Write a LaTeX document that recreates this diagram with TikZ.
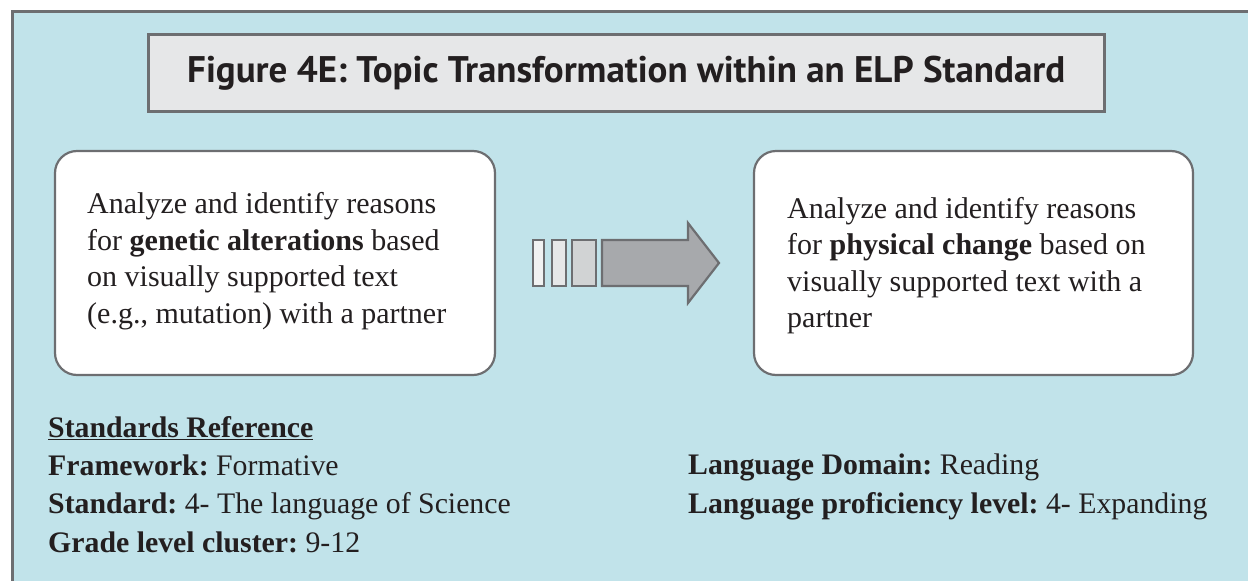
\documentclass[tikz,border=0pt]{standalone}
\usepackage{fontspec}
\setmainfont{Liberation Serif}
\newfontfamily\titlefont{PT Sans}
\usetikzlibrary{calc}
\frenchspacing
\definecolor{bgblue}{HTML}{C1E3EA}
\definecolor{framegray}{HTML}{6D6E71}
\definecolor{titlefill}{HTML}{E6E7E8}
\definecolor{r1}{HTML}{F1F2F2}
\definecolor{r2}{HTML}{E6E7E8}
\definecolor{r3}{HTML}{D1D3D4}
\definecolor{arrowfill}{HTML}{A7A9AC}
\definecolor{txt}{HTML}{231F20}
\tikzset{
  panel/.style={draw=framegray, line width=2.2pt, fill=white, rounded corners=22pt},
  bodytext/.style={anchor=north west, align=left, inner sep=0pt, text=txt,
    font=\frenchspacing\fontsize{30}{36.5}\selectfont},
  reftext/.style={anchor=north west, align=left, inner sep=0pt, text=txt,
    font=\frenchspacing\fontsize{29.8}{38.3}\selectfont},
  stripe/.style={draw=framegray, line width=2.2pt},
}
\begin{document}
\begin{tikzpicture}[x=1pt,y=-1pt]
\useasboundingbox (0,0) rectangle (1248,581);
% outer frame
\draw[draw=framegray, fill=bgblue, line width=3pt] (12,11) rectangle (1260,600);
% title
\node[draw=framegray, fill=titlefill, line width=2.5pt, minimum width=956pt, minimum height=77pt,
  inner sep=0pt, anchor=north west, text=txt] (title) at (147,33)
  {\titlefont\bfseries\fontsize{37}{44}\selectfont Figure 4E: Topic Transformation within an ELP Standard};
% panels
\draw[panel] (55,151) rectangle (495,375);
\draw[panel] (754,151) rectangle (1193,375);
\node[bodytext] (ltext) at (87,192.5) {Analyze and identify reasons\\for \textbf{genetic alterations} based\\on visually supported text\\(e.g., mutation) with a partner};
\node[bodytext] (rtext) at (787,197) {Analyze and identify reasons\\for \textbf{physical change} based on\\visually supported text with a\\partner};
% arrow
\draw[stripe, fill=r1] (533,240) rectangle (544,286);
\draw[stripe, fill=r2] (552,240) rectangle (566,286);
\draw[stripe, fill=r3] (572,240) rectangle (596,286);
\draw[stripe, fill=arrowfill, line join=miter] (602,240) -- (688,240) -- (688,223) -- (719,263) -- (688,303) -- (688,286) -- (602,286) -- cycle;
% bottom reference text
\node[reftext] (refl) at (48,416) {\textbf{\underline{Standards Reference}}\\\textbf{Framework:} Formative\\\textbf{Standard:} 4- The language of Science\\\textbf{Grade level cluster:} 9-12};
\node[reftext] (refr) at (688,454) {\textbf{Language Domain:} Reading\\\textbf{Language proficiency level:} 4- Expanding};
\end{tikzpicture}
\end{document}
